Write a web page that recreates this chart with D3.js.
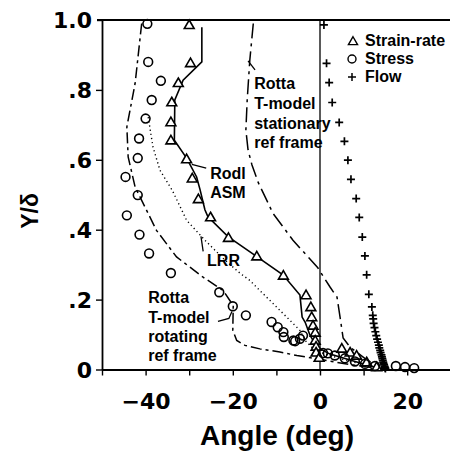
<!DOCTYPE html>
<html><head><meta charset="utf-8">
<script src="https://cdn.jsdelivr.net/npm/d3@7/dist/d3.min.js"></script>
<style>
html,body{margin:0;padding:0;background:#fff;}
svg{display:block;}
text{font-family:"Liberation Sans",Arial,Helvetica,sans-serif;font-weight:bold;fill:#000;}
</style></head><body>
<svg id="chart" width="450" height="457"></svg>
<script>
// ---------- data (angle in degrees, Y/delta) ----------
const xTicks = [-50,-40,-30,-20,-10,0,10,20,30];
const xTickLabels = {"-40":"\u221240","-20":"\u221220","0":"0","20":"20"};
const yTicks = [0,0.2,0.4,0.6,0.8,1.0];
const yTickLabels = ["0",".2",".4",".6",".8","1.0"];

const strainRate = [
 [-30.0,0.986],[-29.7,0.877],[-32.5,0.820],[-34.0,0.765],[-34.2,0.708],[-34.2,0.656],
 [-30.6,0.602],[-29.3,0.547],[-27.9,0.488],[-25.1,0.436],[-21.0,0.377],[-14.5,0.324],
 [-8.4,0.269],[-3.2,0.213],[-2.1,0.179],[-1.9,0.150],[-1.6,0.126],[-1.1,0.106],
 [-1.1,0.083],[-0.9,0.066],[-0.9,0.049],[-0.2,0.034],[5.0,0.060],[6.9,0.049],
 [8.4,0.040],[10.7,0.021],[13.0,0.007]
];
const stress = [
 [-39.6,0.989],[-39.4,0.880],[-36.5,0.826],[-38.6,0.771],[-40.0,0.718],[-41.5,0.661],
 [-41.8,0.605],[-44.6,0.551],[-41.8,0.499],[-44.3,0.441],[-41.4,0.386],[-39.2,0.332],
 [-34.2,0.276],[-23.1,0.221],[-20.0,0.181],[-17.0,0.155],[-11.1,0.136],[-9.7,0.121],
 [-8.4,0.107],[-8.3,0.093],[-5.7,0.081],[-4.6,0.088],[-3.9,0.097],[-6.1,0.083],
 [0.7,0.047],[1.8,0.046],[3.4,0.040],[5.7,0.032],[8.0,0.023],[10.3,0.016],[12.6,0.010],
 [17.4,0.010],[19.5,0.007],[21.6,0.004]
];
const flow = [
 [0.9,0.986],[1.5,0.876],[2.1,0.821],[2.8,0.764],[4.4,0.707],[5.6,0.653],[6.4,0.599],
 [7.1,0.544],[8.3,0.489],[9.0,0.435],[9.7,0.379],[10.3,0.325],[10.7,0.271],[11.2,0.215],
 [11.9,0.179],[12.1,0.155],[12.2,0.145],[12.3,0.132],[12.5,0.120],[12.7,0.108],[12.9,0.097],
 [13.1,0.087],[13.3,0.078],[13.5,0.070],[13.6,0.062],[13.8,0.055],[13.9,0.048],[14.1,0.042],
 [14.2,0.036],[14.3,0.031],[14.4,0.026],[14.5,0.021],[14.6,0.017],[14.7,0.013],[14.8,0.009],
 [14.9,0.006],[15.0,0.003]
];
const rodlASM = [
 [-27.1,0.979],[-27.1,0.880],[-31.4,0.828],[-33.3,0.771],[-33.4,0.656],[-30.6,0.605],
 [-28.3,0.551],[-27.5,0.514],[-26.4,0.457],[-25.7,0.437],[-21.1,0.380],[-14.4,0.322],
 [-8.5,0.271],[-4.6,0.213],[-4.1,0.150],[-3.4,0.135],[-2.3,0.098],[-0.7,0.064],
 [2.3,0.044],[6.9,0.027],[11.5,0.010],[15.0,0.0]
];
const lrr = [
 [-39.4,0.722],[-38.3,0.636],[-36.7,0.570],[-33.9,0.513],[-31.7,0.456],[-30.6,0.427],
 [-26.4,0.370],[-21.8,0.313],[-18.3,0.275],[-16.1,0.255],[-13.8,0.226],[-10.3,0.183],
 [-4.6,0.112],[-3.4,0.083],[-1.1,0.054],[4.6,0.031],[10.3,0.013],[15.0,0.0]
];
const rottaStationary = [
 [-15.3,0.99],[-16.1,0.885],[-16.7,0.771],[-17.0,0.685],[-16.5,0.628],[-15.6,0.585],
 [-14.2,0.536],[-12.2,0.484],[-10.8,0.447],[-6.2,0.370],[-0.5,0.291],[2.3,0.236],
 [3.9,0.207],[4.6,0.150],[5.3,0.090],[6.9,0.064],[10.8,0.027],[15.0,0.0]
];
const rottaRotating = [
 [-40.9,0.99],[-42.4,0.819],[-44.3,0.694],[-44.0,0.608],[-42.4,0.522],[-40.9,0.484],
 [-37.5,0.398],[-32.9,0.322],[-26.8,0.264],[-22.2,0.226],[-19.9,0.183],[-20.0,0.112],
 [-19.1,0.083],[-17.2,0.069],[-13.8,0.059],[-9.2,0.050],[-5.3,0.040],[0,0.029],
 [6.9,0.014],[15.0,0.0]
];
const legendItems = ["Strain-rate","Stress","Flow"];
// annotation text blocks: [x, y of first baseline, line step (in Y/delta), lines]
const annotations = [
 {x:-15.1, y:0.802, step:0.0565, lines:["Rotta","T-model","stationary","ref frame"]},
 {x:-25.2, y:0.544, step:0.0545, lines:["Rodl","ASM"]},
 {x:-25.9, y:0.295, step:0.0560, lines:["LRR"]},
 {x:-39.4, y:0.190, step:0.0557, lines:["Rotta","T-model","rotating","ref frame"]}
];
const leaders = [
 [[-16.5,0.883],[-14.9,0.857]],
 [[-29.4,0.587],[-26.1,0.576]],
 [[-27.3,0.381],[-26.8,0.338]],
 [[-23.4,0.138],[-20.9,0.146],[-20.2,0.166]]
];

// ---------- drawing ----------
const svg = d3.select("#chart");
const x = d3.scaleLinear().domain([-50,30]).range([102,450.8]);
const y = d3.scaleLinear().domain([0,1]).range([369.5,20]);

// top frame line and zero line
svg.append("line").attr("x1",97).attr("x2",450).attr("y1",y(1)).attr("y2",y(1))
  .attr("stroke","#000").attr("stroke-width",1.8);
svg.append("line").attr("x1",x(0)).attr("x2",x(0)).attr("y1",y(1)).attr("y2",y(0))
  .attr("stroke","#000").attr("stroke-width",1.3);

// axes
const xAxis = svg.append("g").attr("transform",`translate(0,${y(0)})`)
  .call(d3.axisBottom(x).tickValues(xTicks).tickSize(6).tickSizeOuter(0)
    .tickFormat(d => xTickLabels[String(d)] || ""));
const yAxis = svg.append("g").attr("transform",`translate(${x(-50)},0)`)
  .call(d3.axisLeft(y).tickValues(yTicks).tickSize(6).tickSizeOuter(0)
    .tickFormat((d,i) => yTickLabels[i]));
[xAxis,yAxis].forEach(g=>{
  g.select(".domain").attr("stroke","#000").attr("stroke-width",1.8);
  g.selectAll(".tick line").attr("stroke","#000").attr("stroke-width",1.4);
  g.selectAll("text").attr("font-family",null).attr("font-size",null)
    .style("font-family","'DejaVu Sans',sans-serif").style("font-size","22px").style("font-weight","bold");
});
xAxis.selectAll(".tick text").attr("dy","0.71em").attr("y",24);
yAxis.selectAll(".tick text").attr("x",-10).attr("dy","0.36em");
yAxis.select(".tick:last-of-type line").attr("x2",-5);

// axis titles
svg.append("text").attr("x",277).attr("y",445).attr("text-anchor","middle")
  .style("font-size","28px").text("Angle (deg)");
svg.append("text").attr("transform","translate(38,211) rotate(-90)").attr("text-anchor","middle")
  .style("font-size","23px").text("Y/\u03b4");

// curves
const line = d3.line().x(d=>x(d[0])).y(d=>y(d[1])).curve(d3.curveLinear);
const curves = [
 {data:rottaRotating, dash:"11,4,3,4", w:1.5},
 {data:rottaStationary, dash:"15,5,3,5", w:1.5},
 {data:lrr, dash:"1.2,3", w:1.4},
 {data:rodlASM, dash:null, w:1.6}
];
curves.forEach(c=>{
  svg.append("path").attr("d",line(c.data)).attr("fill","none").attr("stroke","#000")
    .attr("stroke-width",c.w).attr("stroke-dasharray",c.dash);
});

// markers
const triPath = d3.symbol().type(d3.symbolTriangle).size(42);
svg.append("g").selectAll("path").data(strainRate).join("path")
  .attr("d",triPath).attr("transform",d=>`translate(${x(d[0])},${y(d[1])+0.8})`)
  .attr("fill","#fff").attr("stroke","#000").attr("stroke-width",1.6);
svg.append("g").selectAll("circle").data(stress).join("circle")
  .attr("cx",d=>x(d[0])).attr("cy",d=>y(d[1])).attr("r",4.4)
  .attr("fill","#fff").attr("fill-opacity",0).attr("stroke","#000").attr("stroke-width",1.6);
svg.append("g").selectAll("path").data(flow).join("path")
  .attr("d",d=>`M${x(d[0])-4},${y(d[1])}h8M${x(d[0])},${y(d[1])-4}v8`)
  .attr("stroke","#000").attr("stroke-width",1.7).attr("fill","none");

// annotations
annotations.forEach(a=>{
  a.lines.forEach((t,i)=>{
    svg.append("text").attr("x",x(a.x)).attr("y",y(a.y - i*a.step))
      .style("font-size","16px").text(t);
  });
});
const lline = d3.line().x(d=>x(d[0])).y(d=>y(d[1]));
leaders.forEach(l=>{
  svg.append("path").attr("d",lline(l)).attr("fill","none").attr("stroke","#000").attr("stroke-width",1.3);
});

// legend
const lg = svg.append("g").attr("transform","translate(352,41)");
legendItems.forEach((t,i)=>{
  const g = lg.append("g").attr("transform",`translate(0,${i*18})`);
  if(i===0) g.append("path").attr("d",d3.symbol().type(d3.symbolTriangle).size(36)())
     .attr("transform","translate(1,1)").attr("fill","#fff").attr("stroke","#000").attr("stroke-width",1.4);
  if(i===1) g.append("circle").attr("r",4).attr("fill","#fff").attr("stroke","#000").attr("stroke-width",1.4);
  if(i===2) g.append("path").attr("d","M-4,0h8M0,-4v8").attr("stroke","#000").attr("stroke-width",1.5);
  g.append("text").attr("x",13).attr("y",5).style("font-size","16px").text(t);
});
</script></body></html>
